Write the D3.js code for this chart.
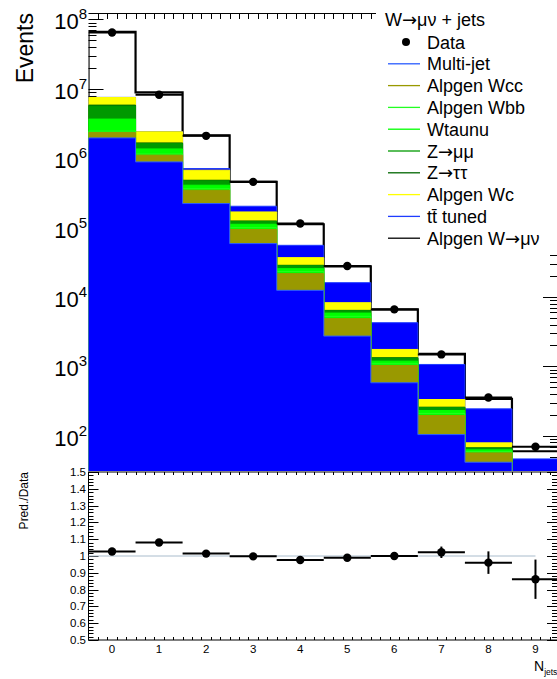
<!DOCTYPE html>
<html>
<head>
<meta charset="utf-8">
<script src="https://cdn.jsdelivr.net/npm/d3@7/dist/d3.min.js"></script>
<style>
body { margin: 0; background: #fff; }
svg { display: block; font-family: "Liberation Sans", Arial, Helvetica, sans-serif; }
</style>
</head>
<body>
<div id="chart-area"></div>
<script>

// N jets bins
var nJets = [0, 1, 2, 3, 4, 5, 6, 7, 8, 9];

// MC samples, stacked from the bottom up
var multiJet = [1.96e6, 8.84e5, 2.22e5, 5.88e4, 1.245e4, 2730, 580, 104, 41.5, 10];
var alpgenWcc = [3.9e5, 2.21e5, 1.23e5, 3.48e4, 9250, 2130, 450, 92, 15.1, 4];
var alpgenWbb = [1.1e5, 4.5e4, 1.8e4, 6000, 1500, 400, 60, 14, 2.5, 0.6];
var wtaunu = [1.2e6, 2.1e5, 4.5e4, 1.2e4, 2400, 600, 99, 21, 3.5, 0.9];
var zmumu = [1.96e6, 2.6e5, 6.3e4, 1.1e4, 2600, 470, 122, 23, 3.6, 0.8];
var ztautau = [2.0e5, 4.0e4, 1.0e4, 1900, 400, 80, 20, 4, 0.7, 0.2];
var alpgenWc = [1.68e6, 7.4e5, 1.9e5, 4.35e4, 8300, 1860, 422, 75, 12.1, 3];
var ttbarTuned = [2.0e4, 2.0e4, 3.9e4, 3.5e4, 1.86e4, 7810, 2507, 732, 165, 26.9];
var alpgenWmunu = [5.89e7, 6.45e6, 1.42e6, 2.52e5, 5.61e4, 1.152e4, 2360, 455, 97, 13.4];

// Data
var dataEvents = [6.47e7, 8.21e6, 2.10e6, 4.56e5, 1.143e5, 2.79e4, 6620, 1487, 355, 69.4];
var ratioErr = [0.003, 0.003, 0.003, 0.004, 0.006, 0.01, 0.015, 0.034, 0.067, 0.117];

// axis ranges / ticks
var xRange = [-0.5, 9.5];
var yRange = [31.05, 1.237e8];
var ratioRange = [0.5, 1.5];
var ratioTicks = [0.5, 0.6, 0.7, 0.8, 0.9, 1, 1.1, 1.2, 1.3, 1.4, 1.5];
var decades = [2, 3, 4, 5, 6, 7, 8];

// legend
var legendHeader = "W\u2192\u03bc\u03bd + jets";
var legendNames = ["Multi-jet", "Alpgen Wcc", "Alpgen Wbb", "Wtaunu", "Z\u2192\u03bc\u03bc",
    "Z\u2192\u03c4\u03c4", "Alpgen Wc", "tt\u0304 tuned", "Alpgen W\u2192\u03bc\u03bd"];

var samples = [
    {name: legendNames[0], values: multiJet, fill: "#0000ff", line: "#2a5cff"},
    {name: legendNames[1], values: alpgenWcc, fill: "#999900", line: "#999900"},
    {name: legendNames[2], values: alpgenWbb, fill: "#00ff00", line: "#22ff22"},
    {name: legendNames[3], values: wtaunu, fill: "#00ff00", line: "#00ff00"},
    {name: legendNames[4], values: zmumu, fill: "#009900", line: "#009900"},
    {name: legendNames[5], values: ztautau, fill: "#007a00", line: "#006600"},
    {name: legendNames[6], values: alpgenWc, fill: "#ffff00", line: "#ffff00"},
    {name: legendNames[7], values: ttbarTuned, fill: "#0000ff", line: "#1f3cff"},
    {name: legendNames[8], values: alpgenWmunu, fill: "none", line: "#000000"}
];

var W = 557, H = 679;
var frame = {left: 88.5, right: 559, top: 13, bottom: 471};
var rframe = {top: 472, bottom: 640};

var svg = d3.select("#chart-area").append("svg")
    .attr("width", W)
    .attr("height", H);

var x = d3.scaleLinear().domain(xRange).range([frame.left, frame.right]);
var y = d3.scaleLog().domain(yRange).range([frame.bottom, frame.top]);
var yr = d3.scaleLinear().domain(ratioRange).range([rframe.bottom, rframe.top]);

svg.append("clipPath").attr("id", "clipTop")
    .append("rect")
    .attr("x", frame.left).attr("y", frame.top)
    .attr("width", frame.right - frame.left).attr("height", frame.bottom - frame.top);

// text with the arrow taken from DejaVu (tighter glyph)
function richText(sel, str) {
    str.split("\u2192").forEach(function (part, i) {
        if (i > 0) sel.append("tspan").style("font-family", "DejaVu Sans").text("\u2192");
        sel.append("tspan").text(part);
    });
    return sel;
}

// ---------- upper pad axes (drawn first, hists cover them) ----------
var axTop = svg.append("g").attr("stroke", "#000").attr("stroke-width", 1);

axTop.append("line")
    .attr("x1", frame.left).attr("x2", frame.right)
    .attr("y1", frame.top + 0.5).attr("y2", frame.top + 0.5);

var logTicks = [];
decades.concat([1]).forEach(function (e) {
    for (var m = 1; m < 10; m++) {
        var v = m * Math.pow(10, e);
        if (v >= yRange[0] && v <= yRange[1]) logTicks.push({v: v, major: m === 1});
    }
});

axTop.selectAll(".ytl").data(logTicks).enter().append("line")
    .attr("x1", frame.left)
    .attr("x2", function (d) { return frame.left + (d.major ? 15 : 8); })
    .attr("y1", function (d) { return Math.round(y(d.v)) + 0.5; })
    .attr("y2", function (d) { return Math.round(y(d.v)) + 0.5; });

axTop.selectAll(".ytr").data(logTicks).enter().append("line")
    .attr("x1", frame.right - 2)
    .attr("x2", function (d) { return frame.right - 2 - (d.major ? 14 : 7); })
    .attr("y1", function (d) { return Math.round(y(d.v)) + 0.5; })
    .attr("y2", function (d) { return Math.round(y(d.v)) + 0.5; });

var xMinor = d3.range(-5, 96, 2).map(function (i) { return i / 10; })
    .filter(function (v) { return v > xRange[0] && v < xRange[1]; });

axTop.selectAll(".xtt").data(xMinor).enter().append("line")
    .attr("x1", function (d) { return Math.round(x(d)) + 0.5; })
    .attr("x2", function (d) { return Math.round(x(d)) + 0.5; })
    .attr("y1", frame.top)
    .attr("y2", function (d) { return frame.top + (Math.abs(d - Math.round(d)) < 1e-6 ? 12 : 6); });

// ---------- stacked histograms ----------
var cum = [];
var running = nJets.map(function () { return 0; });
samples.forEach(function (s) {
    running = running.map(function (r, i) { return r + s.values[i]; });
    cum.push(running.slice());
});

function stepPath(vals) {
    var p = "M" + x(xRange[0]) + "," + (frame.bottom + 5);
    vals.forEach(function (v, i) {
        var yy = y(Math.max(v, yRange[0] / 10));
        p += "L" + x(nJets[i] - 0.5) + "," + yy + "L" + x(nJets[i] + 0.5) + "," + yy;
    });
    p += "L" + x(nJets[nJets.length - 1] + 0.5) + "," + (frame.bottom + 5) + "Z";
    return p;
}

var stack = svg.append("g").attr("clip-path", "url(#clipTop)");

for (var k = samples.length - 1; k >= 0; k--) {
    stack.append("path")
        .attr("d", stepPath(cum[k]))
        .attr("fill", samples[k].fill)
        .attr("stroke", samples[k].line)
        .attr("stroke-width", k === samples.length - 1 ? 2.2 : 1);
}

// data points (upper pad)
var pts = svg.append("g").attr("clip-path", "url(#clipTop)");

pts.selectAll(".hbar").data(dataEvents).enter().append("line")
    .attr("x1", function (d, i) { return x(nJets[i] - 0.5); })
    .attr("x2", function (d, i) { return x(nJets[i] + 0.5); })
    .attr("y1", function (d) { return y(d); })
    .attr("y2", function (d) { return y(d); })
    .attr("stroke", "#000").attr("stroke-width", 2);

pts.selectAll(".vbar").data(dataEvents).enter().append("line")
    .attr("x1", function (d, i) { return x(nJets[i]); })
    .attr("x2", function (d, i) { return x(nJets[i]); })
    .attr("y1", function (d) { return y(d + Math.sqrt(d)); })
    .attr("y2", function (d) { return y(d - Math.sqrt(d)); })
    .attr("stroke", "#000").attr("stroke-width", 2);

pts.selectAll(".dot").data(dataEvents).enter().append("circle")
    .attr("cx", function (d, i) { return x(nJets[i]); })
    .attr("cy", function (d) { return y(d); })
    .attr("r", 4.2)
    .attr("fill", "#000");

// y labels upper pad
var ylab = svg.append("g").attr("fill", "#000");
decades.forEach(function (e) {
    var t = ylab.append("text")
        .attr("x", 87)
        .attr("y", y(Math.pow(10, e)) + 10)
        .attr("text-anchor", "end")
        .style("font-size", "22px");
    t.append("tspan").text("10");
    t.append("tspan").text(e).attr("dy", -10).style("font-size", "15px");
});

svg.append("text")
    .attr("transform", "translate(33," + frame.top + ") rotate(-90)")
    .attr("text-anchor", "end")
    .style("font-size", "23px")
    .text("Events");

// ---------- legend ----------
var leg = svg.append("g");
leg.append("rect")
    .attr("x", 376).attr("y", 0)
    .attr("width", W - 376).attr("height", 252)
    .attr("fill", "#fff");

richText(leg.append("text")
    .attr("x", 385).attr("y", 26)
    .style("font-size", "18px"), legendHeader);

var rowY = function (i) { return 42 + i * 21.8; };

leg.append("circle").attr("cx", 406).attr("cy", rowY(0)).attr("r", 4).attr("fill", "#000");
leg.append("text").attr("x", 427).attr("y", rowY(0) + 6.5)
    .style("font-size", "18px").text("Data");

samples.forEach(function (s, i) {
    leg.append("line")
        .attr("x1", 388).attr("x2", 420)
        .attr("y1", rowY(i + 1)).attr("y2", rowY(i + 1))
        .attr("stroke", s.line).attr("stroke-width", 1.3);
    richText(leg.append("text")
        .attr("x", 427).attr("y", rowY(i + 1) + 6.5)
        .style("font-size", "18px"), s.name);
});

// ---------- ratio pad ----------
var rp = svg.append("g");

rp.append("rect")
    .attr("x", frame.left).attr("y", rframe.top)
    .attr("width", frame.right - frame.left - 1.5).attr("height", rframe.bottom - rframe.top)
    .attr("fill", "none").attr("stroke", "#000").attr("stroke-width", 1);

var rMinor = d3.range(50, 151, 2).map(function (i) { return i / 100; });

rp.selectAll(".rtl").data(rMinor).enter().append("line")
    .attr("x1", frame.left)
    .attr("x2", function (d, i) { return frame.left + (i % 5 === 0 ? 10 : 5); })
    .attr("y1", function (d) { return Math.round(yr(d)) + 0.5; })
    .attr("y2", function (d) { return Math.round(yr(d)) + 0.5; })
    .attr("stroke", "#000");

rp.selectAll(".rtr").data(rMinor).enter().append("line")
    .attr("x1", frame.right - 2)
    .attr("x2", function (d, i) { return frame.right - 2 - (i % 5 === 0 ? 10 : 5); })
    .attr("y1", function (d) { return Math.round(yr(d)) + 0.5; })
    .attr("y2", function (d) { return Math.round(yr(d)) + 0.5; })
    .attr("stroke", "#000");

[rframe.top, rframe.bottom].forEach(function (yy, j) {
    var dir = j === 0 ? 1 : -1;
    rp.selectAll(".rxt" + j).data(xMinor).enter().append("line")
        .attr("x1", function (d) { return Math.round(x(d)) + 0.5; })
        .attr("x2", function (d) { return Math.round(x(d)) + 0.5; })
        .attr("y1", yy)
        .attr("y2", function (d) { return yy + dir * (Math.abs(d - Math.round(d)) < 1e-6 ? 6 : 3); })
        .attr("stroke", "#000");
});

rp.selectAll(".rlab").data(ratioTicks).enter().append("text")
    .attr("x", 86)
    .attr("y", function (d) { return yr(d) + 4; })
    .attr("text-anchor", "end")
    .style("font-size", "11.5px")
    .text(function (d) { return d3.format("~g")(d); });

rp.selectAll(".xlab").data(nJets).enter().append("text")
    .attr("x", function (d) { return x(d); })
    .attr("y", 653)
    .attr("text-anchor", "middle")
    .style("font-size", "11.5px")
    .text(function (d) { return d; });

rp.append("text")
    .attr("x", 534).attr("y", 671)
    .style("font-size", "14px")
    .text("N")
    .append("tspan").attr("dy", 4).style("font-size", "8.5px").text("jets");

rp.append("text")
    .attr("transform", "translate(28," + rframe.top + ") rotate(-90)")
    .attr("text-anchor", "end")
    .style("font-size", "12px")
    .text("Pred./Data");

// reference line at 1
rp.append("line")
    .attr("x1", x(xRange[0])).attr("x2", x(nJets[nJets.length - 1]))
    .attr("y1", yr(1)).attr("y2", yr(1))
    .attr("stroke", "#a9bccc").attr("stroke-width", 1);

// ratio = prediction / data
var predTotal = cum[cum.length - 1];
var ratio = dataEvents.map(function (d, i) { return predTotal[i] / d; });

rp.selectAll(".rh").data(ratio).enter().append("line")
    .attr("x1", function (d, i) { return x(nJets[i] - 0.5); })
    .attr("x2", function (d, i) { return x(nJets[i] + 0.5); })
    .attr("y1", function (d) { return yr(d); })
    .attr("y2", function (d) { return yr(d); })
    .attr("stroke", "#000").attr("stroke-width", 2);

rp.selectAll(".rv").data(ratio).enter().append("line")
    .attr("x1", function (d, i) { return x(nJets[i]); })
    .attr("x2", function (d, i) { return x(nJets[i]); })
    .attr("y1", function (d, i) { return yr(d + ratioErr[i]); })
    .attr("y2", function (d, i) { return yr(d - ratioErr[i]); })
    .attr("stroke", "#000").attr("stroke-width", 2);

rp.selectAll(".rd").data(ratio).enter().append("circle")
    .attr("cx", function (d, i) { return x(nJets[i]); })
    .attr("cy", function (d) { return yr(d); })
    .attr("r", 4.2)
    .attr("fill", "#000");

</script>
</body>
</html>
